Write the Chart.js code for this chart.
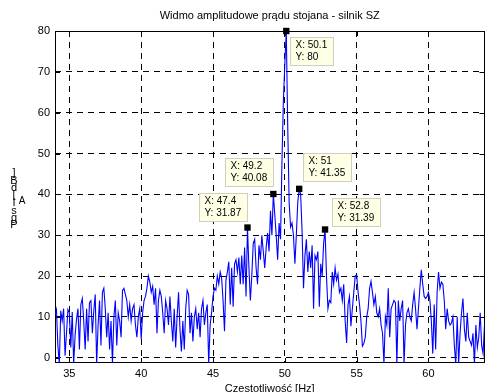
<!DOCTYPE html>
<html><head><meta charset="utf-8">
<script src="https://cdn.jsdelivr.net/npm/chart.js@4/dist/chart.umd.min.js"></script>
<style>html,body{margin:0;padding:0;background:#fff;overflow:hidden}canvas{display:block}</style>
</head><body>
<canvas id="c" width="489" height="392"></canvas>
<script>
const chartTitle = 'Widmo amplitudowe prądu stojana - silnik SZ';
const xAxisLabel = 'Czestotliwość [Hz]';
const yLabelChars = [']', 'B', 'd', '[', 'I', 's', 'g', 'P'];
const yLabelSub = 'A';
const xTicks = [35, 40, 45, 50, 55, 60];
const yTicks = [0, 10, 20, 30, 40, 50, 60, 70, 80];
// frequency grid: 34.0 ... 63.9 Hz in 0.1 Hz steps
const frequencies = Array.from({length: 300}, (_, i) => Math.round((34 + i * 0.1) * 10) / 10);
const amplitude = [
  10.5, 11.8, 3, -1.5, 11.5, 9, 12, 0.5, 6, 11.8,
  11, 2.5, 11.2, -1.5, 5.5, 9.5, 12, 2, 13, 14.5,
  9, 2, 12, 4, 13.5, 14, 6, 11.5, 15.5, -1.5,
  8, 14, 3, 16, 17, 12, 5, 11, 2, 9,
  -1.5, 10, 14, 3, 11, 9, 5, 16.5, 17, 15.5,
  14, 10, 13, 9, 12, 13, 8, 5, 10, 12,
  4.5, 11, 14, 15, 17, 20, 18.5, 16, 17.5, 13,
  17, 6, 14, 16.5, 15, 11, 6, 14, 12, 8,
  15, 9, 4, 12, 2.5, 10, 16, 7, 1.5, 9,
  2, 12, 16.5, 15.5, 6, 11, 4, 10, 12, 7,
  11, 5, 12, 14, 8, 11, 13, -1.5, 8, 11,
  15, 17, 16.5, 20, 18, 21, 19.5, 14, 6.5, 19,
  21, 23.5, 13, 22, 12.5, 23, 24, 21, 24.5, 18,
  25, 18, 27, 15, 31.87, 22, 14, 20, 28, 29,
  22, 18, 27.5, 24, 30, 26, 22, 27, 30.5, 26,
  36, 30, 40.08, 35, 30, 24, 33, 29, 48, 63,
  72, 80, 57, 38, 32, 33, 30, 23, 30, 38,
  41.35, 40, 31, 17, 25, 29, 21, 26, 22, 27.5,
  12, 25, 24, 26, 12.5, 23, 20, 28, 31.39, 20,
  12, 14, 13.5, 21, 18, 22, 19, 20.5, 16, 17,
  14, 18, 9, 3.6, 13, 15, 7.7, 12, 16, 20,
  20.3, 16, 13, 9, 2.8, 3.5, 5, 10, 12, 17,
  18.7, 16, 13, 15, 11, 10, 12, 8, 6, -1.5,
  10, 8, 17, 5, 12, 13, 14, 13.5, -1.5, 14,
  9, 12, 14, -1.5, 8, 11, 12, 10, 9, 13,
  16, 12, 7, 12, 17, 21.5, 18, 15, 14.5, 15,
  16, 14, 9, 1, 13, 2, 16, 21, 17, 18.5,
  18, 14, 7, 12, 9, 8, 8.5, 10, 3, -1.5,
  10, -1.5, 6, 11, 14.5, 7, 4, 11, 5, 4,
  3, 6, -1.5, 8, 2.5, 5, 11, 3, 1, 8
];
const tipX = [47.4, 49.2, 50.1, 51, 52.8];
const tipY = [31.87, 40.08, 80, 41.35, 31.39];

const FONT = 'Liberation Sans, Arial, Helvetica, sans-serif';

const decorPlugin = {
  id: 'decor',
  beforeDatasetsDraw(chart) {
    const {ctx, chartArea: a, scales: {x, y}} = chart;
    ctx.save();
    ctx.strokeStyle = '#000';
    ctx.lineWidth = 1;
    ctx.strokeRect(Math.round(a.left) + 0.5, Math.round(a.top) + 0.5, Math.round(a.right - a.left) - 1, Math.round(a.bottom - a.top) - 1);
    ctx.beginPath();
    xTicks.forEach(v => {
      const px = Math.round(x.getPixelForValue(v)) + 0.5;
      ctx.moveTo(px, a.bottom); ctx.lineTo(px, a.bottom - 5);
      ctx.moveTo(px, a.top); ctx.lineTo(px, a.top + 5);
    });
    yTicks.forEach(v => {
      const py = Math.round(y.getPixelForValue(v)) + 0.5;
      ctx.moveTo(a.left, py); ctx.lineTo(a.left + 5, py);
      ctx.moveTo(a.right, py); ctx.lineTo(a.right - 5, py);
    });
    ctx.stroke();
    ctx.restore();
  },
  afterDatasetsDraw(chart) {
    const {ctx, scales: {x, y}} = chart;
    ctx.save();
    const offsets = [[-48, -35], [-48, -36], [4, 6], [4, -36], [7, -32]];
    ctx.font = '10px ' + FONT;
    ctx.textBaseline = 'middle';
    ctx.textAlign = 'left';
    tipX.forEach((tx, i) => {
      const px = x.getPixelForValue(tx), py = y.getPixelForValue(tipY[i]);
      const l1 = 'X: ' + tx, l2 = 'Y: ' + tipY[i];
      const w = Math.ceil(Math.max(ctx.measureText(l1).width, ctx.measureText(l2).width)) + 11;
      const h = 28;
      const bx = Math.round(px + offsets[i][0]) + 0.5, by = Math.round(py + offsets[i][1]) + 0.5;
      ctx.fillStyle = '#ffffe6';
      ctx.fillRect(bx, by, w, h);
      ctx.strokeStyle = '#cfcfc0';
      ctx.strokeRect(bx, by, w, h);
      ctx.fillStyle = '#000';
      ctx.fillText(l1, bx + 5, by + 8);
      ctx.fillText(l2, bx + 5, by + 20);
    });
    ctx.restore();
  },
  afterDraw(chart) {
    const {ctx, chartArea: a} = chart;
    ctx.save();
    ctx.fillStyle = '#000';
    ctx.textAlign = 'center';
    ctx.textBaseline = 'middle';
    ctx.font = '11px ' + FONT;
    ctx.fillText(chartTitle, (a.left + a.right) / 2, 16);
    ctx.font = '11px ' + FONT;
    const ys = [173, 181, 188, 195, 203, 211, 218, 225];
    yLabelChars.forEach((c, i) => ctx.fillText(c, 14, ys[i]));
    ctx.font = '10px ' + FONT;
    ctx.fillText(yLabelSub, 22, 201);
    ctx.restore();
  }
};

new Chart(document.getElementById('c'), {
  type: 'line',
  data: {
    datasets: [
      {
        data: frequencies.map((f, i) => ({x: f, y: amplitude[i]})),
        borderColor: '#0000ff',
        borderWidth: 1.1,
        pointRadius: 0,
        tension: 0,
        fill: false,
        order: 2
      },
      {
        data: tipX.map((v, i) => ({x: v, y: tipY[i]})),
        showLine: false,
        clip: false,
        pointStyle: 'rect',
        pointRadius: 4.5,
        pointBackgroundColor: '#000',
        pointBorderColor: '#000',
        pointBorderWidth: 0,
        order: 1
      }
    ]
  },
  options: {
    responsive: false,
    animation: false,
    events: [],
    layout: {padding: {top: 31, right: 2, left: 0, bottom: 0}},
    plugins: {legend: {display: false}, tooltip: {enabled: false}, title: {display: false}},
    scales: {
      x: {
        type: 'linear',
        min: 34,
        max: 63.9,
        afterBuildTicks: s => { s.ticks = xTicks.map(v => ({value: v})); },
        afterFit: s => { s.height = 29; },
        ticks: {font: {family: FONT, size: 11}, color: '#000', padding: 4, maxRotation: 0, autoSkip: false, callback: v => String(v)},
        grid: {color: '#000', lineWidth: 1, drawTicks: false},
        border: {display: false, dash: [6, 5]},
        title: {display: true, text: xAxisLabel, color: '#000', font: {family: FONT, size: 11}, padding: {top: 0, bottom: -4}}
      },
      y: {
        type: 'linear',
        min: -1.3,
        max: 80,
        afterBuildTicks: s => { s.ticks = yTicks.map(v => ({value: v})); },
        afterFit: s => { s.width = 55; },
        ticks: {font: {family: FONT, size: 11}, color: '#000', padding: 5, callback: v => String(v)},
        grid: {color: '#000', lineWidth: 1, drawTicks: false},
        border: {display: false, dash: [6, 5]}
      }
    }
  },
  plugins: [decorPlugin]
});
</script>
</body></html>
